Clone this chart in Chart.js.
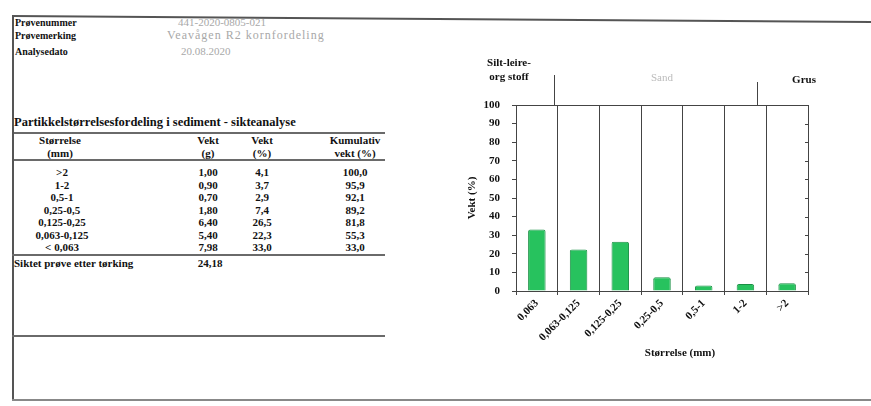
<!DOCTYPE html>
<html>
<head>
<meta charset="utf-8">
<script src="https://cdn.jsdelivr.net/npm/chart.js@4.4.1/dist/chart.umd.min.js"></script>
<style>
  body { margin: 0; background: #fff; }
  #page { position: relative; width: 871px; height: 406px; overflow: hidden; font-family: "Liberation Serif", serif; }
  .t { position: absolute; font-size: 11px; line-height: 12px; white-space: nowrap; color: #111; font-weight: bold; }
  .c { transform: translateX(-50%); text-align: center; }
  .lab { font-size: 10px; }
  .val { color: #a8a8a8; font-weight: normal; }
  .hl { position: absolute; height: 2px; background: #6a6a6a; }
  #chartBox { position: absolute; left: 440px; top: 50px; width: 431px; height: 330px; }
</style>
</head>
<body>
<div id="page">
  <div class="hl" style="left:12px; top:15px; width:862px; transform:rotate(0.4deg); transform-origin:left; background:#555;"></div>
  <div style="position:absolute; left:12px; top:15px; width:2px; height:386px; background:#555;"></div>
  <div class="hl" style="left:12px; top:399px; width:859px; background:#888;"></div>

  <div class="t lab" style="left:15px; top:17px;">Prøvenummer</div>
  <div class="t lab" style="left:15px; top:30px;">Prøvemerking</div>
  <div class="t lab" style="left:15px; top:46px;">Analysedato</div>
  <div class="t val" style="left:178px; top:16px;">441-2020-0805-021</div>
  <div class="t val" style="left:167px; top:29px; font-size:12px; letter-spacing:1px;">Veavågen R2 kornfordeling</div>
  <div class="t val" style="left:181px; top:45px;">20.08.2020</div>

  <div class="t" style="left:14px; top:116px; font-size:12.5px;">Partikkelstørrelsesfordeling i sediment - sikteanalyse</div>
  <div class="hl" style="left:14px; top:132px; width:371px;"></div>
  <div class="t c" style="left:60px; top:134px;">Størrelse</div>
  <div class="t c" style="left:60px; top:147px;">(mm)</div>
  <div class="t c" style="left:208px; top:134px;">Vekt</div>
  <div class="t c" style="left:208px; top:147px;">(g)</div>
  <div class="t c" style="left:262px; top:134px;">Vekt</div>
  <div class="t c" style="left:262px; top:147px;">(%)</div>
  <div class="t c" style="left:355px; top:134px;">Kumulativ</div>
  <div class="t c" style="left:355px; top:147px;">vekt (%)</div>
  <div class="hl" style="left:14px; top:159px; width:371px;"></div>
  <div id="rows"></div>
  <div class="hl" style="left:12px; top:254px; width:373px;"></div>
  <div class="t" style="left:14px; top:257px;">Siktet prøve etter tørking</div>
  <div class="t c" id="total" style="left:210px; top:257px;"></div>
  <div class="hl" style="left:12px; top:335px; width:373px;"></div>

  <div id="chartBox"><canvas id="myChart" width="431" height="330"></canvas></div>
</div>

<script>
// table data (rows top to bottom)
const sizeClasses = ['>2', '1-2', '0,5-1', '0,25-0,5', '0,125-0,25', '0,063-0,125', '< 0,063'];
const weightG = [1.00, 0.90, 0.70, 1.80, 6.40, 5.40, 7.98];
const weightPct = [4.1, 3.7, 2.9, 7.4, 26.5, 22.3, 33.0];
const cumPct = [100.0, 95.9, 92.1, 89.2, 81.8, 55.3, 33.0];
const totalWeight = 24.18;

// chart data (fine to coarse)
const chartLabels = ['0,063', '0,063-0,125', '0,125-0,25', '0,25-0,5', '0,5-1', '1-2', '>2'];
const chartValues = weightPct.slice().reverse();
const yTicks = [0, 10, 20, 30, 40, 50, 60, 70, 80, 90, 100];

function fmt(v, d) { return v.toFixed(d).replace('.', ','); }

var rowsHtml = '';
var rowY = [166, 179, 191, 204, 216, 229, 241];
for (var i = 0; i < sizeClasses.length; i++) {
  var y = rowY[i];
  rowsHtml += '<div class="t c" style="left:62px; top:' + y + 'px;">' + sizeClasses[i].replace('<', '&lt;').replace('>', '&gt;') + '</div>';
  rowsHtml += '<div class="t c" style="left:208px; top:' + y + 'px;">' + fmt(weightG[i], 2) + '</div>';
  rowsHtml += '<div class="t c" style="left:262px; top:' + y + 'px;">' + fmt(weightPct[i], 1) + '</div>';
  rowsHtml += '<div class="t c" style="left:355px; top:' + y + 'px;">' + fmt(cumPct[i], 1) + '</div>';
}
document.getElementById('rows').innerHTML = rowsHtml;
document.getElementById('total').textContent = fmt(totalWeight, 2);

const serif = { family: 'Liberation Serif', size: 11, weight: 'bold' };

// frame, right-side ticks, x title and the fraction labels above the plot
const framePlugin = {
  id: 'frame',
  afterDraw(chart) {
    const ctx = chart.ctx;
    const a = chart.chartArea;
    const x = chart.scales.x, yS = chart.scales.y;
    ctx.save();
    ctx.strokeStyle = '#444';
    ctx.lineWidth = 1;
    ctx.strokeRect(a.left + 0.5, a.top + 0.5, a.right - a.left, a.bottom - a.top);
    ctx.beginPath();
    yTicks.forEach(function (t) {
      var py = Math.round(yS.getPixelForValue(t)) + 0.5;
      ctx.moveTo(a.right - 3, py);
      ctx.lineTo(a.right, py);
    });
    var b1 = (x.getPixelForValue(0) + x.getPixelForValue(1)) / 2;
    var b2 = (x.getPixelForValue(5) + x.getPixelForValue(6)) / 2;
    ctx.moveTo(Math.round(b1) - 3.5, a.top - 30);
    ctx.lineTo(Math.round(b1) - 3.5, a.top);
    ctx.moveTo(Math.round(b2) - 8.5, a.top - 23);
    ctx.lineTo(Math.round(b2) - 8.5, a.top);
    ctx.stroke();

    ctx.font = 'bold 11px "Liberation Serif"';
    ctx.textAlign = 'center';
    ctx.textBaseline = 'middle';
    ctx.fillStyle = '#111';
    ctx.fillText('Silt-leire-', a.left - 7, a.top - 42);
    ctx.fillText('org stoff', a.left - 7, a.top - 28);
    ctx.fillText('Grus', a.right - 4, a.top - 25);
    ctx.fillText('Størrelse (mm)', (a.left + a.right) / 2 + 18, a.bottom + 62);
    ctx.fillStyle = '#bbb';
    ctx.font = '11px "Liberation Serif"';
    ctx.fillText('Sand', (b1 + b2) / 2, a.top - 27);
    ctx.restore();
  }
};

var ctx = document.getElementById('myChart').getContext('2d');
var myChart = new Chart(ctx, {
  type: 'bar',
  data: {
    labels: chartLabels,
    datasets: [{
      data: chartValues,
      backgroundColor: '#27c25e',
      borderColor: '#1a8f44',
      borderWidth: 1,
      borderRadius: 2,
      barPercentage: 0.42,
      categoryPercentage: 1
    }]
  },
  options: {
    responsive: false,
    animation: false,
    layout: { padding: { top: 55, right: 63, left: 22, bottom: 17 } },
    plugins: { legend: { display: false }, tooltip: { enabled: false } },
    scales: {
      x: {
        afterFit: function (s) { s.height = 72; },
        grid: { offset: true, color: '#444', tickLength: 4, lineWidth: 1 },
        border: { color: '#444' },
        ticks: { minRotation: 45, maxRotation: 45, padding: 2, color: '#111', font: serif, autoSkip: false }
      },
      y: {
        min: 0,
        max: 100,
        afterFit: function (s) { s.width = 54; },
        afterBuildTicks: function (s) { s.ticks = yTicks.map(function (v) { return { value: v }; }); },
        grid: { drawOnChartArea: false, color: '#444', tickLength: 4 },
        border: { color: '#444' },
        ticks: { padding: 12, color: '#111', font: serif },
        title: { display: true, text: 'Vekt (%)', color: '#111', font: serif }
      }
    }
  },
  plugins: [framePlugin]
});
</script>
</body>
</html>
